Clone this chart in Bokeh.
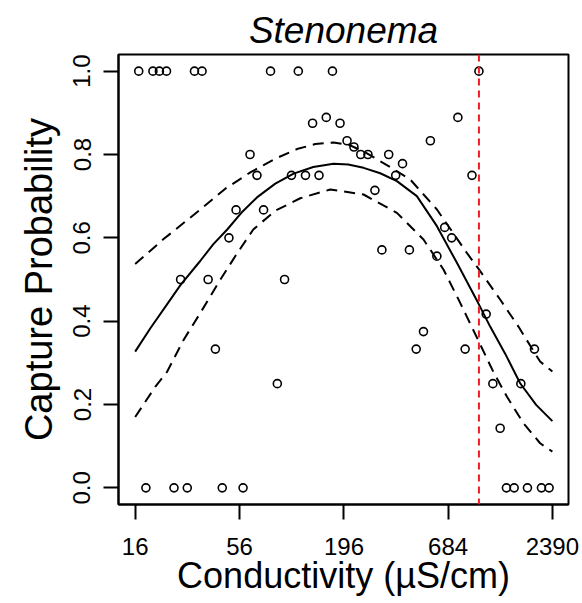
from bokeh.plotting import figure
from bokeh.models import FixedTicker, Range1d, Span, PrintfTickFormatter
from bokeh.embed import file_html
from bokeh.resources import INLINE

# ---- data ----
title_text = "Stenonema"
x_label = "Conductivity (\u00b5S/cm)"
y_label = "Capture Probability"

x_ticks = [16, 56, 196, 684, 2390]
y_ticks = [0.0, 0.2, 0.4, 0.6, 0.8, 1.0]

threshold = 990

# observed capture probabilities per site
obs_cond = [16.7, 19.8, 21.4, 23.3, 32.6, 35.7, 81.2, 113.3, 170.7, 990,
            18.2, 25.5, 29.9, 45.5, 58.4, 1377, 1511, 1772, 2096, 2298,
            27.6, 38.4, 41.9, 49.3, 53.7, 63.5, 69.0, 74.7, 88.1, 96.1,
            104.4, 123.5, 145.3, 134.5, 158.5, 187.0, 203.4, 220.9, 239.7, 261.3,
            284.1, 309.0, 335.3, 364.6, 395.7, 429.8, 466.4, 508.9, 552.8, 597.6,
            656.5, 713.9, 769.0, 839.1, 910.7, 1080, 1170, 1277, 1637, 1927]
obs_prob = [1, 1, 1, 1, 1, 1, 1, 1, 1, 1,
            0, 0, 0, 0, 0, 0, 0, 0, 0, 0,
            0.5, 0.5, 0.333, 0.6, 0.667, 0.8, 0.75, 0.667, 0.25, 0.5,
            0.75, 0.75, 0.75, 0.875, 0.889, 0.875, 0.833, 0.818, 0.8, 0.8,
            0.714, 0.571, 0.8, 0.75, 0.778, 0.571, 0.333, 0.375, 0.833, 0.556,
            0.625, 0.6, 0.889, 0.333, 0.75, 0.417, 0.25, 0.143, 0.25, 0.333]

# fitted curve
fit_cond = [16, 19.2, 23.5, 27.6, 35.0, 40.9, 48.3, 57.2, 69.0, 86.0,
            107.1, 135.6, 173, 206.3, 248, 302.9, 370, 470, 598, 760,
            980, 1133, 1356, 1623, 1967, 2390]
fit_prob = [0.327, 0.383, 0.441, 0.487, 0.545, 0.585, 0.620, 0.660, 0.697, 0.730,
            0.754, 0.770, 0.778, 0.776, 0.768, 0.755, 0.736, 0.700, 0.628, 0.540,
            0.444, 0.387, 0.322, 0.251, 0.199, 0.160]

# upper confidence band
up_cond = [16, 22.5, 35.0, 47.2, 63.7, 86.0, 111.5, 138.9, 173, 211.3,
           253, 341.5, 434, 598, 856, 1005, 1277, 1590, 2063, 2390]
up_prob = [0.537, 0.597, 0.668, 0.718, 0.757, 0.790, 0.813, 0.825, 0.829, 0.822,
           0.805, 0.770, 0.740, 0.668, 0.564, 0.520, 0.452, 0.387, 0.303, 0.279]

# lower confidence band
lo_cond = [16, 20.4, 23.5, 28.6, 35.0, 44.5, 53.9, 66.0, 86.0, 116,
           166.3, 248, 370, 509, 647, 790.6, 856, 1178, 1384, 1689,
           2063, 2390]
lo_prob = [0.170, 0.243, 0.279, 0.355, 0.420, 0.500, 0.560, 0.620, 0.665, 0.695,
           0.716, 0.704, 0.660, 0.596, 0.524, 0.444, 0.411, 0.278, 0.219, 0.155,
           0.107, 0.087]

FONT = "Liberation Sans"

p = figure(width=582, height=603, x_axis_type="log",
           x_range=Range1d(13.1, 2900), y_range=Range1d(-0.04, 1.04),
           output_backend="svg", toolbar_location=None,
           min_border_left=118, min_border_right=14,
           min_border_top=54, min_border_bottom=99)

p.title.text = title_text
p.title.align = "center"
p.title.text_font = FONT
p.title.text_font_size = "37px"
p.title.text_font_style = "italic"
p.title.text_color = "black"
p.title.standoff = 7

p.xgrid.visible = False
p.ygrid.visible = False
p.background_fill_color = "white"
p.border_fill_color = "white"
p.outline_line_color = "black"
p.outline_line_width = 2
p.outline_line_alpha = 1

for ax in (p.xaxis[0], p.yaxis[0]):
    ax.axis_line_color = "black"
    ax.axis_line_width = 2
    ax.major_tick_out = 15
    ax.major_tick_in = 0
    ax.major_tick_line_width = 2
    ax.major_tick_line_color = "black"
    ax.minor_tick_line_color = None
    ax.major_label_text_font = FONT
    ax.major_label_text_font_size = "24px"
    ax.major_label_text_color = "black"
    ax.axis_label_text_font = FONT
    ax.axis_label_text_font_style = "normal"
    ax.axis_label_text_color = "black"

p.xaxis.axis_label_text_font_size = "36px"
p.yaxis.axis_label_text_font_size = "38px"

p.xaxis.ticker = FixedTicker(ticks=x_ticks)
p.xaxis.formatter = PrintfTickFormatter(format="%d")
p.xaxis.axis_label = x_label
p.xaxis.major_label_standoff = 18
p.xaxis.axis_label_standoff = -3

p.yaxis.ticker = FixedTicker(ticks=y_ticks)
p.yaxis.formatter = PrintfTickFormatter(format="%.1f")
p.yaxis.major_label_orientation = "vertical"
p.yaxis.axis_label = y_label
p.yaxis.major_label_standoff = 13
p.yaxis.axis_label_standoff = 11

p.line(up_cond, up_prob, line_color="black", line_width=2, line_dash="11 7")
p.line(lo_cond, lo_prob, line_color="black", line_width=2, line_dash="11 7")
p.line(fit_cond, fit_prob, line_color="black", line_width=2)

p.scatter(obs_cond, obs_prob, marker="circle", size=8, fill_color=None,
          line_color="black", line_width=1.6)

p.add_layout(Span(location=threshold, dimension="height", line_color="#ee1c25",
                  line_width=2, line_dash="7 5"))

open("out.html", "w").write(file_html(p, INLINE))
